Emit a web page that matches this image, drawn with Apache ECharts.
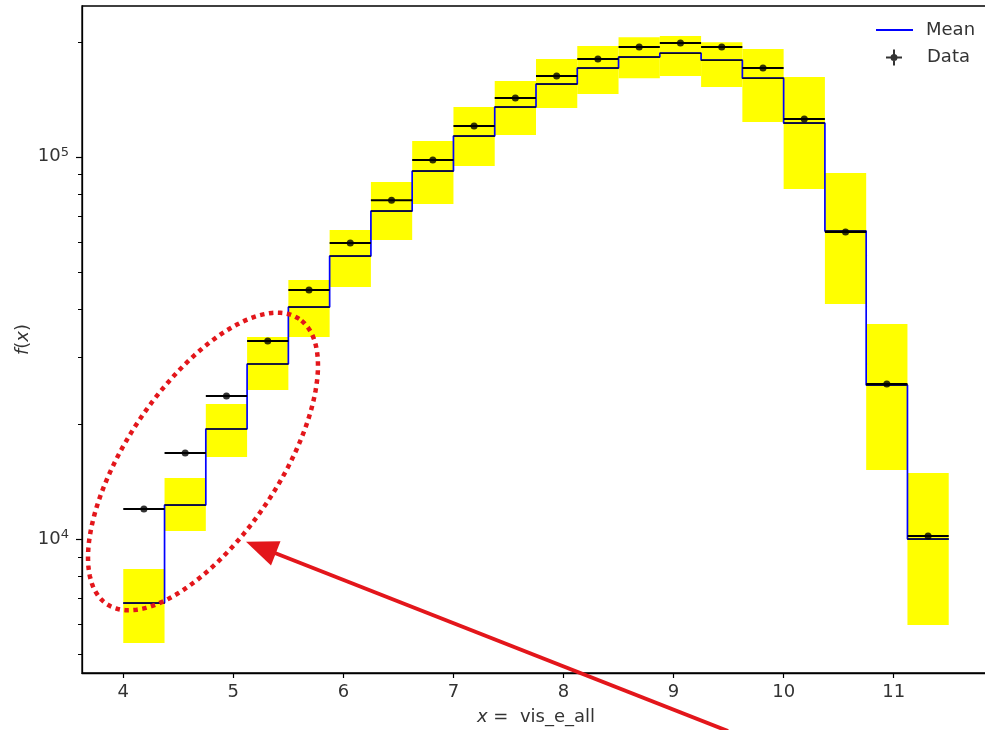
<!DOCTYPE html>
<html><head><meta charset="utf-8">
<script src="https://cdn.jsdelivr.net/npm/echarts@6/dist/echarts.min.js"></script>
<style>html,body{margin:0;padding:0;background:#fff}#c{width:985px;height:730px}</style>
</head><body><div id="c"></div>
<script>
// ---- data ----
const binEdges = [4.0, 4.375, 4.75, 5.125, 5.5, 5.875, 6.25, 6.625, 7.0, 7.375, 7.75, 8.125, 8.5, 8.875, 9.25, 9.625, 10.0, 10.375, 10.75, 11.125, 11.5];
const meanVals = [6800, 12270, 19400, 28700, 40440, 55000, 72110, 91740, 113300, 134900, 155000, 170600, 182300, 186700, 179000, 160600, 122500, 63910, 25280, 10000];
const dataVals = [11980, 16790, 23660, 32950, 44810, 59480, 77020, 98030, 120300, 142400, 162600, 180100, 193600, 198400, 193600, 170600, 125500, 63530, 25430, 10180];
const bandLow  = [5346, 10490, 16390, 24530, 33760, 45630, 60550, 75200, 94560, 114000, 134100, 145900, 160600, 162600, 152200, 123300, 82320, 41180, 15150, 5957];
const bandHigh = [8347, 14440, 22550, 33760, 47590, 64300, 85860, 109900, 134900, 157800, 180100, 194800, 205600, 206900, 199500, 191300, 161600, 90650, 36500, 14880];
const xTicks = [4, 5, 6, 7, 8, 9, 10, 11];
const yMajorTicks = [10000, 100000];
const yMinorTicks = [5000, 6000, 7000, 8000, 9000, 20000, 30000, 40000, 50000, 60000, 70000, 80000, 90000, 200000];
const xMin = 3.625, xMax = 11.875, yMin = 4462, yMax = 248000;

const FONT = 'DejaVu Sans';
const TXT = '#333';
const RED = '#e3161b';

const nb = meanVals.length;
const bandData = [], meanBars = [], dataBars = [], dots = [], stepData = [];
for (let i = 0; i < nb; i++) {
  const x0 = binEdges[i], x1 = binEdges[i + 1];
  bandData.push([x0, x1, bandLow[i], bandHigh[i]]);
  meanBars.push([x0, x1, meanVals[i]]);
  dataBars.push([x0, x1, dataVals[i]]);
  dots.push([(x0 + x1) / 2, dataVals[i]]);
  stepData.push([x0, meanVals[i]]);
}
stepData.push([binEdges[nb], meanVals[nb - 1]]);

function hbar(color, width) {
  return function (params, api) {
    const a = api.coord([api.value(0), api.value(2)]);
    const b = api.coord([api.value(1), api.value(2)]);
    return { type: 'line', shape: { x1: a[0], y1: a[1], x2: b[0], y2: b[1] },
      style: { stroke: color, lineWidth: width } };
  };
}

// annotation ellipse (pixel overlay)
const ell = [];
{
  const cx = 203, cy = 461.5, a = 172, b = 76, th = 56 * Math.PI / 180;
  for (let k = 0; k < 200; k++) {
    const t = 2 * Math.PI * k / 200;
    const u = a * Math.cos(t), v = b * Math.sin(t);
    ell.push([cx + u * Math.cos(th) - v * Math.sin(th), cy - (u * Math.sin(th) + v * Math.cos(th))]);
  }
}

const chart = echarts.init(document.getElementById('c'), null, { renderer: 'canvas' });
chart.setOption({
  animation: false,
  backgroundColor: '#fff',
  textStyle: { fontFamily: FONT },
  grid: { left: 82, top: 6, right: -5, bottom: 57, show: true, borderColor: '#000', borderWidth: 1.3,
          backgroundColor: 'transparent', containLabel: false, outerBoundsMode: 'none' },
  legend: [
    { data: [{ name: 'Mean', icon: 'rect', itemStyle: { color: '#0000ff' } }], left: 871, top: 16,
      itemWidth: 37, itemHeight: 2, selectedMode: false,
      textStyle: { fontSize: 18, color: TXT, fontFamily: FONT, padding: [0, 0, 0, 8] } },
    { data: [{ name: 'Data', icon: 'path://M0,7h16v2H0z M7,0h2v16H7z M4.5,8a3.5,3.5 0 1,1 7,0a3.5,3.5 0 1,1 -7,0z', itemStyle: { color: '#000' } }],
      left: 881, top: 43.5, itemWidth: 16, itemHeight: 16, selectedMode: false,
      textStyle: { fontSize: 18, color: TXT, fontFamily: FONT, padding: [0, 0, 0, 20] } }
  ],
  xAxis: {
    type: 'value', min: xMin, max: xMax,
    axisLine: { show: true, onZero: false, lineStyle: { color: '#000', width: 1.3 } },
    axisTick: { show: true, customValues: xTicks, length: 5, lineStyle: { color: '#000', width: 1.2 } },
    axisLabel: { customValues: xTicks, fontSize: 18, color: TXT, fontFamily: FONT, margin: 10 },
    splitLine: { show: false },
    name: '{i|x} =  vis_e_all', nameLocation: 'middle', nameGap: 35, nameMoveOverlap: false,
    nameTextStyle: { fontSize: 18, color: TXT, fontFamily: FONT,
      rich: { i: { fontSize: 18, fontStyle: 'italic', color: TXT, fontFamily: FONT } } }
  },
  yAxis: {
    type: 'log', logBase: 10, min: yMin, max: yMax,
    axisLine: { show: true, onZero: false, lineStyle: { color: '#000', width: 1.3 } },
    axisTick: { show: true, customValues: yMajorTicks, length: 6, lineStyle: { color: '#000', width: 1.2 } },
    axisLabel: {
      customValues: yMajorTicks, margin: 13,
      formatter: function (v) { return '{b|10}{s|' + Math.round(Math.log10(v)) + '}'; },
      rich: {
        b: { fontSize: 18, color: TXT, fontFamily: FONT },
        s: { fontSize: 13, color: TXT, fontFamily: FONT, verticalAlign: 'top', padding: [0, 0, 8, 0] }
      }
    },
    splitLine: { show: false }, minorTick: { show: false },
    name: '{i|f}({i|x})', nameLocation: 'middle', nameGap: 50, nameMoveOverlap: false,
    nameTextStyle: { fontSize: 18, color: TXT, fontFamily: FONT,
      rich: { i: { fontSize: 18, fontStyle: 'italic', color: TXT, fontFamily: FONT } } }
  },
  series: [
    { type: 'custom', name: 'band', data: bandData, encode: { x: [0, 1], y: [2, 3] }, silent: true, z: 1,
      renderItem: function (params, api) {
        const p0 = api.coord([api.value(0), api.value(3)]);
        const p1 = api.coord([api.value(1), api.value(2)]);
        return { type: 'rect', shape: { x: p0[0], y: p0[1], width: p1[0] - p0[0], height: p1[1] - p0[1] },
          style: { fill: '#ffff00' } };
      } },
    { type: 'line', name: 'Mean', data: stepData, step: 'end', symbol: 'none', z: 2, silent: true,
      itemStyle: { color: '#0000ff' }, lineStyle: { color: '#0000ff', width: 1.7 } },
    { type: 'custom', name: 'meanbars', data: meanBars, encode: { x: [0, 1], y: 2 }, silent: true, z: 3,
      renderItem: hbar('#111', 1.5) },
    { type: 'custom', name: 'databars', data: dataBars, encode: { x: [0, 1], y: 2 }, silent: true, z: 4,
      renderItem: hbar('#000', 2) },
    { type: 'scatter', name: 'Data', data: dots, symbol: 'circle', symbolSize: 7, z: 5, silent: true,
      itemStyle: { color: '#000' } },
    { type: 'custom', name: 'minorticks', data: yMinorTicks.map(v => [xMin, v]), silent: true, z: 6,
      renderItem: function (params, api) {
        const p = api.coord([api.value(0), api.value(1)]);
        const y = Math.round(p[1]) + 0.5;
        return { type: 'line', shape: { x1: p[0] - 4, y1: y, x2: p[0], y2: y },
          style: { stroke: '#000', lineWidth: 1 } };
      } }
  ],
  graphic: [
    { type: 'polygon', shape: { points: ell }, z: 100, silent: true,
      style: { fill: null, stroke: RED, lineWidth: 4.5, lineDash: [4.5, 4.5] } },
    { type: 'line', shape: { x1: 728, y1: 731, x2: 266, y2: 549.5 }, z: 100, silent: true,
      style: { stroke: RED, lineWidth: 4 } },
    { type: 'polygon', shape: { points: [[246, 541.7], [271, 565.5], [280.5, 541.3]] }, z: 100, silent: true,
      style: { fill: RED } }
  ]
});
</script>
</body></html>
